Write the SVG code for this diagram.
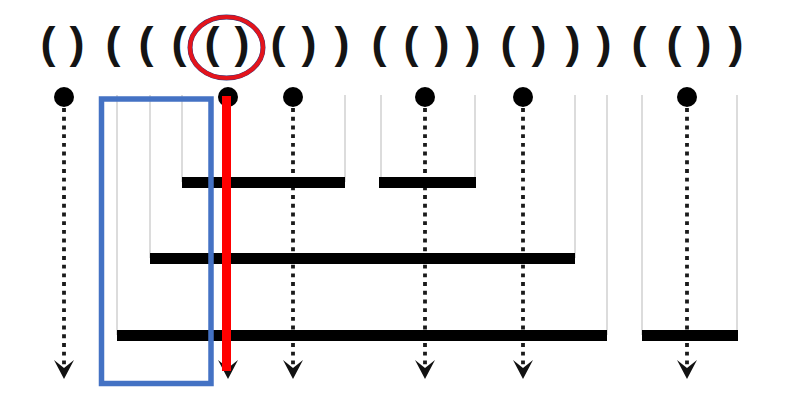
<svg xmlns="http://www.w3.org/2000/svg" width="804" height="417" viewBox="0 0 804 417">
  <style>
    .paren { font-family: "Liberation Sans", Arial, sans-serif; font-size: 45px; font-weight: bold; fill: #141414; text-anchor: middle; }
    .guide { stroke: #d4d4d4; stroke-width: 1.6; fill: none; }
    .bar { fill: #000; }
    .dot { fill: #000; }
    .flow { stroke: #1a1a1a; stroke-width: 3.8; stroke-linecap: square; stroke-dasharray: 0.1 8.6; fill: none; marker-end: url(#arrow); }
  </style>
  <defs>
    <marker id="arrow" markerUnits="userSpaceOnUse" viewBox="0 -11 20 22" markerWidth="20" markerHeight="22" refX="10" refY="0" orient="auto" overflow="visible">
      <path d="M0,-10 L19,0 L0,10 L8,0 Z" fill="#111"/>
    </marker>
  </defs>
  <rect width="804" height="417" fill="#fff"/>

  <g id="sequence">
    <text class="paren" y="58" x="48 62 77 95 113 129 146 162 179 195 212 227 242 259 278 293 309 325 342 360 379 395 411 426 442 457 473 491 508 523 539 556 573 589 604 621 639 656 674 689 704 720 736">( ) ( ( ( ( ) ( ) ) ( ( ) ) ( ) ) ) ( ( ) )</text>
  </g>

  <g id="guides">
    <line class="guide" x1="117" y1="95" x2="117" y2="335"/>
    <line class="guide" x1="150" y1="95" x2="150" y2="258"/>
    <line class="guide" x1="182" y1="95" x2="182" y2="182"/>
    <line class="guide" x1="345" y1="95" x2="345" y2="182"/>
    <line class="guide" x1="381" y1="95" x2="381" y2="182"/>
    <line class="guide" x1="475" y1="95" x2="475" y2="182"/>
    <line class="guide" x1="575" y1="95" x2="575" y2="258"/>
    <line class="guide" x1="607" y1="95" x2="607" y2="335"/>
    <line class="guide" x1="642" y1="95" x2="642" y2="335"/>
    <line class="guide" x1="737" y1="95" x2="737" y2="335"/>
  </g>

  <g id="connectors">
    <line class="flow" x1="64" y1="110" x2="64" y2="370"/>
    <line class="flow" x1="228" y1="110" x2="228" y2="370"/>
    <line class="flow" x1="293" y1="110" x2="293" y2="370"/>
    <line class="flow" x1="425" y1="110" x2="425" y2="370"/>
    <line class="flow" x1="523" y1="110" x2="523" y2="370"/>
    <line class="flow" x1="687" y1="110" x2="687" y2="370"/>
  </g>

  <g id="bars">
    <rect id="bar-a" class="bar" x="182" y="177" width="163" height="11"/>
    <rect id="bar-b" class="bar" x="379" y="177" width="97" height="11"/>
    <rect id="bar-c" class="bar" x="150" y="253" width="425" height="11"/>
    <rect id="bar-d" class="bar" x="117" y="330" width="490" height="11"/>
    <rect id="bar-e" class="bar" x="642" y="330" width="96" height="11"/>
  </g>

  <g id="leaves">
    <circle id="leaf-1" class="dot" cx="64" cy="97" r="10"/>
    <circle id="leaf-2" class="dot" cx="228" cy="97" r="10"/>
    <circle id="leaf-3" class="dot" cx="293" cy="97" r="10"/>
    <circle id="leaf-4" class="dot" cx="425" cy="97" r="10"/>
    <circle id="leaf-5" class="dot" cx="523" cy="97" r="10"/>
    <circle id="leaf-6" class="dot" cx="687" cy="97" r="10"/>
  </g>

  <g id="highlights">
    <rect id="blue-box" x="101.5" y="99" width="109.5" height="284.5" fill="none" stroke="#4472C4" stroke-width="5.5"/>
    <rect id="red-line" x="222" y="96" width="9" height="275" fill="#FF0000"/>
    <ellipse cx="226.5" cy="47.5" rx="36.5" ry="30.5" fill="none" stroke="#2F3A7F" stroke-width="5"/>
    <ellipse id="red-ellipse" cx="226.5" cy="47.5" rx="36.5" ry="30.5" fill="none" stroke="#E3141C" stroke-width="4.2"/>
  </g>
</svg>
